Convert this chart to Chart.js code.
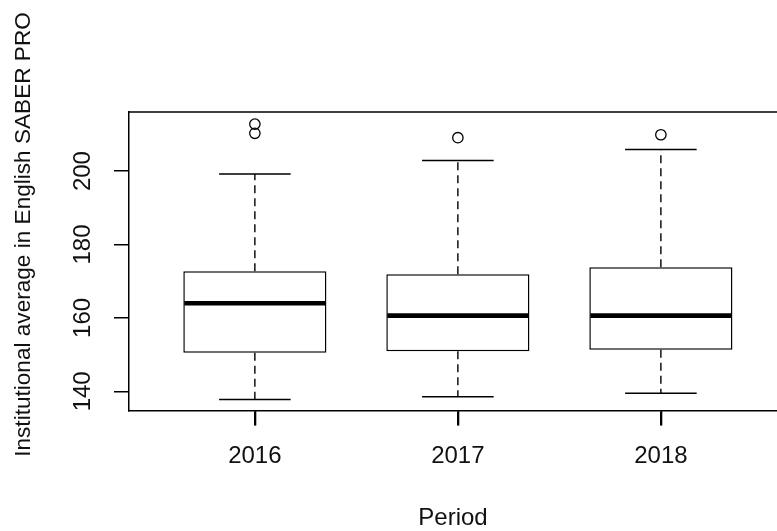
<!DOCTYPE html>
<html>
<head>
<meta charset="utf-8">
<script src="https://cdn.jsdelivr.net/npm/chart.js@4"></script>
<style>
  body { margin: 0; background: #fff; }
  #boxChart { display: block; }
</style>
</head>
<body>
<canvas id="boxChart" width="777" height="531"></canvas>
<script>
// Institutional averages in English (SABER PRO), summarised per period
const periods = ['2016', '2017', '2018'];
const lowerWhisker = [137.8, 138.5, 139.5];
const lowerQuartile = [150.5, 150.9, 151.3];
const medians = [164.0, 160.6, 160.6];
const upperQuartile = [172.7, 171.9, 173.8];
const upperWhisker = [199.2, 202.9, 205.9];
const outliers = [[212.8, 210.3], [209.1], [209.9]];
const yTicks = [140, 160, 180, 200];

const fontFamily = '"Liberation Sans", Arial, sans-serif';
const ink = '#111';
const tickLen = 15;

// whiskers, caps, medians and the top edge of the frame
const boxWhiskers = {
  id: 'boxWhiskers',
  afterDatasetsDraw(chart) {
    const { ctx, chartArea, scales: { x, y } } = chart;
    const boxes = chart.getDatasetMeta(0).data;
    ctx.save();
    ctx.strokeStyle = '#000';
    periods.forEach((p, i) => {
      const cx = x.getPixelForValue(i + 1);
      const half = boxes[i].width / 2;
      const capHalf = half / 2;

      ctx.lineWidth = 1.4;
      ctx.setLineDash([8, 5]);
      ctx.beginPath();
      ctx.moveTo(cx, y.getPixelForValue(upperQuartile[i]));
      ctx.lineTo(cx, y.getPixelForValue(upperWhisker[i]));
      ctx.moveTo(cx, y.getPixelForValue(lowerQuartile[i]));
      ctx.lineTo(cx, y.getPixelForValue(lowerWhisker[i]));
      ctx.stroke();

      ctx.setLineDash([]);
      ctx.lineWidth = 1.5;
      ctx.beginPath();
      const top = y.getPixelForValue(upperWhisker[i]);
      const bottom = y.getPixelForValue(lowerWhisker[i]);
      ctx.moveTo(cx - capHalf, top);
      ctx.lineTo(cx + capHalf, top);
      ctx.moveTo(cx - capHalf, bottom);
      ctx.lineTo(cx + capHalf, bottom);
      ctx.stroke();

      ctx.lineWidth = 4.7;
      ctx.beginPath();
      const my = y.getPixelForValue(medians[i]);
      ctx.moveTo(cx - half + 1, my);
      ctx.lineTo(cx + half - 1, my);
      ctx.stroke();
    });

    ctx.lineWidth = 1.5;
    ctx.beginPath();
    ctx.moveTo(chartArea.left, chartArea.top);
    ctx.lineTo(chartArea.right, chartArea.top);
    ctx.stroke();
    ctx.restore();
  },
  // x tick marks, y tick labels and y title
  afterDraw(chart) {
    const { ctx, chartArea, scales: { x, y } } = chart;
    ctx.save();
    ctx.strokeStyle = '#000';
    ctx.lineWidth = 1.6;
    ctx.beginPath();
    periods.forEach((p, i) => {
      const cx = Math.round(x.getPixelForValue(i + 1)) + 0.5;
      ctx.moveTo(cx, chartArea.bottom);
      ctx.lineTo(cx, chartArea.bottom + tickLen);
    });
    ctx.stroke();

    ctx.fillStyle = ink;
    ctx.textAlign = 'center';
    ctx.textBaseline = 'alphabetic';
    ctx.font = '24px ' + fontFamily;
    yTicks.forEach(v => {
      ctx.save();
      ctx.translate(90, y.getPixelForValue(v));
      ctx.rotate(-Math.PI / 2);
      ctx.fillText(String(v), 0, 0);
      ctx.restore();
    });
    ctx.font = '22.6px ' + fontFamily;
    ctx.translate(30, 234.5);
    ctx.rotate(-Math.PI / 2);
    ctx.fillText('Institutional average in English SABER PRO', 0, 0);
    ctx.restore();
  }
};

const outlierPoints = [];
outliers.forEach((list, i) => list.forEach(v => outlierPoints.push({ x: i + 1, y: v })));

new Chart(document.getElementById('boxChart').getContext('2d'), {
  type: 'bar',
  data: {
    datasets: [{
      label: 'IQR',
      data: periods.map((p, i) => ({ x: i + 1, y: [lowerQuartile[i], upperQuartile[i]] })),
      backgroundColor: '#fff',
      borderColor: '#000',
      borderWidth: 1.5,
      borderSkipped: false,
      categoryPercentage: 1,
      barPercentage: 0.705
    }, {
      type: 'scatter',
      label: 'Outliers',
      data: outlierPoints,
      pointStyle: 'circle',
      pointRadius: 5.2,
      pointBorderWidth: 1.3,
      pointBorderColor: '#000',
      pointBackgroundColor: 'rgba(0,0,0,0)'
    }]
  },
  options: {
    responsive: false,
    animation: false,
    layout: { autoPadding: false, padding: { left: 114, top: 112, right: 0, bottom: 0 } },
    plugins: { legend: { display: false }, tooltip: { enabled: false } },
    scales: {
      x: {
        type: 'linear',
        min: 0.38,
        max: 3.572,
        offset: false,
        afterBuildTicks: axis => { axis.ticks = periods.map((p, i) => ({ value: i + 1 })); },
        ticks: {
          callback: v => periods[v - 1],
          font: { family: fontFamily, size: 24 },
          color: ink,
          padding: 17,
          autoSkip: false,
          maxRotation: 0
        },
        grid: { offset: false, drawOnChartArea: false, color: '#000', lineWidth: 1.5, tickLength: tickLen },
        border: { color: '#000', width: 1.5 },
        title: {
          display: true,
          text: 'Period',
          font: { family: fontFamily, size: 24 },
          color: ink,
          padding: { top: 16, bottom: -2 }
        }
      },
      y: {
        min: 134.8,
        max: 216.1,
        afterBuildTicks: axis => { axis.ticks = yTicks.map(v => ({ value: v })); },
        ticks: { display: false },
        grid: { drawOnChartArea: false, color: '#000', lineWidth: 1.5, tickLength: tickLen },
        border: { color: '#000', width: 1.5 }
      }
    }
  },
  plugins: [boxWhiskers]
});
</script>
</body>
</html>
